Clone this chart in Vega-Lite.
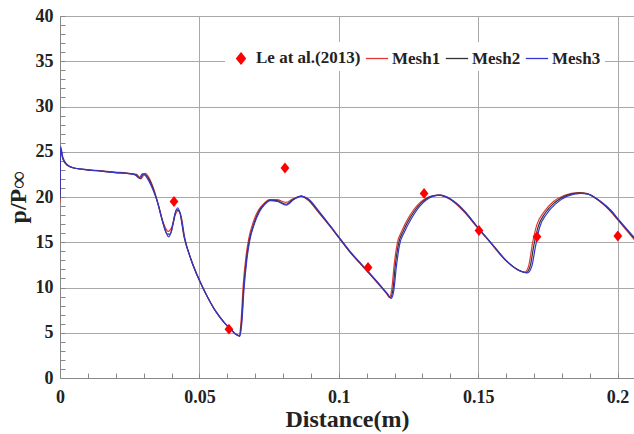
{
  "$schema": "https://vega.github.io/schema/vega-lite/v6.json",
  "width": 574,
  "height": 362,
  "autosize": "none",
  "padding": {"left": 60, "top": 16, "right": 0, "bottom": 56},
  "background": "white",
  "config": {"view": {"stroke": null}, "font": "Liberation Serif"},
  "datasets": {
    "exp": [
      {"s": "Le at al.(2013)", "x": 0.0409, "y": 19.5},
      {"s": "Le at al.(2013)", "x": 0.0606, "y": 5.4},
      {"s": "Le at al.(2013)", "x": 0.0807, "y": 23.2},
      {"s": "Le at al.(2013)", "x": 0.1105, "y": 12.2},
      {"s": "Le at al.(2013)", "x": 0.1306, "y": 20.4},
      {"s": "Le at al.(2013)", "x": 0.1503, "y": 16.3},
      {"s": "Le at al.(2013)", "x": 0.1711, "y": 15.6},
      {"s": "Le at al.(2013)", "x": 0.2001, "y": 15.7}
    ],
    "sim": [
      {"s": "Mesh1", "x": 0, "y": 19.4},
      {"s": "Mesh1", "x": 0.0002, "y": 25.0},
      {"s": "Mesh1", "x": 0.001, "y": 24.2},
      {"s": "Mesh1", "x": 0.0025, "y": 23.5},
      {"s": "Mesh1", "x": 0.005, "y": 23.2},
      {"s": "Mesh1", "x": 0.01, "y": 23.0},
      {"s": "Mesh1", "x": 0.015, "y": 22.9},
      {"s": "Mesh1", "x": 0.02, "y": 22.75},
      {"s": "Mesh1", "x": 0.024, "y": 22.65},
      {"s": "Mesh1", "x": 0.0275, "y": 22.5},
      {"s": "Mesh1", "x": 0.029, "y": 22.0},
      {"s": "Mesh1", "x": 0.0305, "y": 22.6},
      {"s": "Mesh1", "x": 0.0318, "y": 22.2},
      {"s": "Mesh1", "x": 0.033, "y": 21.4},
      {"s": "Mesh1", "x": 0.0345, "y": 20.0},
      {"s": "Mesh1", "x": 0.036, "y": 18.2},
      {"s": "Mesh1", "x": 0.0375, "y": 16.8},
      {"s": "Mesh1", "x": 0.0388, "y": 16.2},
      {"s": "Mesh1", "x": 0.04, "y": 16.6},
      {"s": "Mesh1", "x": 0.0413, "y": 18.0},
      {"s": "Mesh1", "x": 0.0425, "y": 18.5},
      {"s": "Mesh1", "x": 0.0435, "y": 17.8},
      {"s": "Mesh1", "x": 0.0448, "y": 15.4},
      {"s": "Mesh1", "x": 0.047, "y": 13.1},
      {"s": "Mesh1", "x": 0.05, "y": 10.8},
      {"s": "Mesh1", "x": 0.053, "y": 8.9},
      {"s": "Mesh1", "x": 0.056, "y": 7.3},
      {"s": "Mesh1", "x": 0.059, "y": 6.1},
      {"s": "Mesh1", "x": 0.0615, "y": 5.3},
      {"s": "Mesh1", "x": 0.0632, "y": 4.8},
      {"s": "Mesh1", "x": 0.0642, "y": 4.7},
      {"s": "Mesh1", "x": 0.065, "y": 6.5},
      {"s": "Mesh1", "x": 0.0657, "y": 10.2},
      {"s": "Mesh1", "x": 0.0667, "y": 13.4},
      {"s": "Mesh1", "x": 0.0677, "y": 15.4},
      {"s": "Mesh1", "x": 0.0694, "y": 17.3},
      {"s": "Mesh1", "x": 0.0713, "y": 18.6},
      {"s": "Mesh1", "x": 0.0732, "y": 19.3},
      {"s": "Mesh1", "x": 0.0752, "y": 19.7},
      {"s": "Mesh1", "x": 0.0778, "y": 19.7},
      {"s": "Mesh1", "x": 0.081, "y": 19.4},
      {"s": "Mesh1", "x": 0.0836, "y": 19.8},
      {"s": "Mesh1", "x": 0.0864, "y": 20.1},
      {"s": "Mesh1", "x": 0.0888, "y": 19.7},
      {"s": "Mesh1", "x": 0.093, "y": 18.2},
      {"s": "Mesh1", "x": 0.097, "y": 16.7},
      {"s": "Mesh1", "x": 0.1, "y": 15.5},
      {"s": "Mesh1", "x": 0.104, "y": 13.9},
      {"s": "Mesh1", "x": 0.1075, "y": 12.7},
      {"s": "Mesh1", "x": 0.111, "y": 11.5},
      {"s": "Mesh1", "x": 0.115, "y": 10.1},
      {"s": "Mesh1", "x": 0.1172, "y": 9.3},
      {"s": "Mesh1", "x": 0.1182, "y": 8.9},
      {"s": "Mesh1", "x": 0.119, "y": 9.8},
      {"s": "Mesh1", "x": 0.1199, "y": 12.6},
      {"s": "Mesh1", "x": 0.121, "y": 14.9},
      {"s": "Mesh1", "x": 0.1227, "y": 16.3},
      {"s": "Mesh1", "x": 0.1252, "y": 17.8},
      {"s": "Mesh1", "x": 0.1292, "y": 19.4},
      {"s": "Mesh1", "x": 0.1332, "y": 20.1},
      {"s": "Mesh1", "x": 0.1358, "y": 20.2},
      {"s": "Mesh1", "x": 0.1395, "y": 19.8},
      {"s": "Mesh1", "x": 0.1445, "y": 18.5},
      {"s": "Mesh1", "x": 0.1495, "y": 16.7},
      {"s": "Mesh1", "x": 0.1545, "y": 14.9},
      {"s": "Mesh1", "x": 0.1595, "y": 13.1},
      {"s": "Mesh1", "x": 0.164, "y": 12.0},
      {"s": "Mesh1", "x": 0.1668, "y": 11.7},
      {"s": "Mesh1", "x": 0.1682, "y": 12.5},
      {"s": "Mesh1", "x": 0.1695, "y": 14.9},
      {"s": "Mesh1", "x": 0.171, "y": 16.9},
      {"s": "Mesh1", "x": 0.1735, "y": 18.3},
      {"s": "Mesh1", "x": 0.177, "y": 19.5},
      {"s": "Mesh1", "x": 0.181, "y": 20.2},
      {"s": "Mesh1", "x": 0.1858, "y": 20.5},
      {"s": "Mesh1", "x": 0.1888, "y": 20.4},
      {"s": "Mesh1", "x": 0.1932, "y": 19.6},
      {"s": "Mesh1", "x": 0.1972, "y": 18.5},
      {"s": "Mesh1", "x": 0.2, "y": 17.5},
      {"s": "Mesh1", "x": 0.203, "y": 16.4},
      {"s": "Mesh1", "x": 0.207, "y": 14.9},

      {"s": "Mesh2", "x": 0, "y": 19.8},
      {"s": "Mesh2", "x": 0.0002, "y": 25.3},
      {"s": "Mesh2", "x": 0.001, "y": 24.3},
      {"s": "Mesh2", "x": 0.0025, "y": 23.55},
      {"s": "Mesh2", "x": 0.005, "y": 23.2},
      {"s": "Mesh2", "x": 0.01, "y": 23.0},
      {"s": "Mesh2", "x": 0.015, "y": 22.85},
      {"s": "Mesh2", "x": 0.02, "y": 22.7},
      {"s": "Mesh2", "x": 0.024, "y": 22.6},
      {"s": "Mesh2", "x": 0.0272, "y": 22.45},
      {"s": "Mesh2", "x": 0.0287, "y": 22.05},
      {"s": "Mesh2", "x": 0.03, "y": 22.55},
      {"s": "Mesh2", "x": 0.0313, "y": 22.25},
      {"s": "Mesh2", "x": 0.0325, "y": 21.6},
      {"s": "Mesh2", "x": 0.034, "y": 20.4},
      {"s": "Mesh2", "x": 0.0355, "y": 18.9},
      {"s": "Mesh2", "x": 0.037, "y": 17.1},
      {"s": "Mesh2", "x": 0.0385, "y": 15.9},
      {"s": "Mesh2", "x": 0.0395, "y": 15.9},
      {"s": "Mesh2", "x": 0.0407, "y": 17.2},
      {"s": "Mesh2", "x": 0.0418, "y": 18.6},
      {"s": "Mesh2", "x": 0.0428, "y": 18.4},
      {"s": "Mesh2", "x": 0.0445, "y": 15.6},
      {"s": "Mesh2", "x": 0.047, "y": 13.1},
      {"s": "Mesh2", "x": 0.05, "y": 10.8},
      {"s": "Mesh2", "x": 0.053, "y": 8.9},
      {"s": "Mesh2", "x": 0.056, "y": 7.3},
      {"s": "Mesh2", "x": 0.059, "y": 6.1},
      {"s": "Mesh2", "x": 0.0615, "y": 5.3},
      {"s": "Mesh2", "x": 0.0632, "y": 4.8},
      {"s": "Mesh2", "x": 0.0644, "y": 4.65},
      {"s": "Mesh2", "x": 0.0651, "y": 6.2},
      {"s": "Mesh2", "x": 0.0659, "y": 10.0},
      {"s": "Mesh2", "x": 0.0669, "y": 13.2},
      {"s": "Mesh2", "x": 0.0679, "y": 15.2},
      {"s": "Mesh2", "x": 0.0696, "y": 17.1},
      {"s": "Mesh2", "x": 0.0715, "y": 18.5},
      {"s": "Mesh2", "x": 0.0734, "y": 19.25},
      {"s": "Mesh2", "x": 0.0754, "y": 19.65},
      {"s": "Mesh2", "x": 0.0779, "y": 19.6},
      {"s": "Mesh2", "x": 0.0811, "y": 19.2},
      {"s": "Mesh2", "x": 0.0837, "y": 19.75},
      {"s": "Mesh2", "x": 0.0865, "y": 20.1},
      {"s": "Mesh2", "x": 0.0889, "y": 19.75},
      {"s": "Mesh2", "x": 0.0931, "y": 18.25},
      {"s": "Mesh2", "x": 0.097, "y": 16.75},
      {"s": "Mesh2", "x": 0.1, "y": 15.55},
      {"s": "Mesh2", "x": 0.104, "y": 13.95},
      {"s": "Mesh2", "x": 0.1075, "y": 12.75},
      {"s": "Mesh2", "x": 0.111, "y": 11.55},
      {"s": "Mesh2", "x": 0.115, "y": 10.15},
      {"s": "Mesh2", "x": 0.1174, "y": 9.3},
      {"s": "Mesh2", "x": 0.1185, "y": 8.85},
      {"s": "Mesh2", "x": 0.1194, "y": 9.7},
      {"s": "Mesh2", "x": 0.1203, "y": 12.5},
      {"s": "Mesh2", "x": 0.1214, "y": 14.8},
      {"s": "Mesh2", "x": 0.1231, "y": 16.2},
      {"s": "Mesh2", "x": 0.1256, "y": 17.7},
      {"s": "Mesh2", "x": 0.1296, "y": 19.35},
      {"s": "Mesh2", "x": 0.1336, "y": 20.1},
      {"s": "Mesh2", "x": 0.1362, "y": 20.2},
      {"s": "Mesh2", "x": 0.1398, "y": 19.8},
      {"s": "Mesh2", "x": 0.1448, "y": 18.5},
      {"s": "Mesh2", "x": 0.1498, "y": 16.65},
      {"s": "Mesh2", "x": 0.1548, "y": 14.85},
      {"s": "Mesh2", "x": 0.1598, "y": 13.05},
      {"s": "Mesh2", "x": 0.1643, "y": 11.95},
      {"s": "Mesh2", "x": 0.1673, "y": 11.65},
      {"s": "Mesh2", "x": 0.1687, "y": 12.4},
      {"s": "Mesh2", "x": 0.17, "y": 14.7},
      {"s": "Mesh2", "x": 0.1715, "y": 16.7},
      {"s": "Mesh2", "x": 0.174, "y": 18.2},
      {"s": "Mesh2", "x": 0.1775, "y": 19.4},
      {"s": "Mesh2", "x": 0.1815, "y": 20.15},
      {"s": "Mesh2", "x": 0.1863, "y": 20.45},
      {"s": "Mesh2", "x": 0.1892, "y": 20.35},
      {"s": "Mesh2", "x": 0.1936, "y": 19.55},
      {"s": "Mesh2", "x": 0.1976, "y": 18.45},
      {"s": "Mesh2", "x": 0.2002, "y": 17.5},
      {"s": "Mesh2", "x": 0.2033, "y": 16.4},
      {"s": "Mesh2", "x": 0.207, "y": 15.05},

      {"s": "Mesh3", "x": 0, "y": 20.0},
      {"s": "Mesh3", "x": 0.0002, "y": 25.6},
      {"s": "Mesh3", "x": 0.001, "y": 24.4},
      {"s": "Mesh3", "x": 0.0025, "y": 23.6},
      {"s": "Mesh3", "x": 0.005, "y": 23.2},
      {"s": "Mesh3", "x": 0.01, "y": 23.0},
      {"s": "Mesh3", "x": 0.015, "y": 22.85},
      {"s": "Mesh3", "x": 0.02, "y": 22.7},
      {"s": "Mesh3", "x": 0.024, "y": 22.6},
      {"s": "Mesh3", "x": 0.027, "y": 22.45},
      {"s": "Mesh3", "x": 0.0283, "y": 22.1},
      {"s": "Mesh3", "x": 0.0296, "y": 22.55},
      {"s": "Mesh3", "x": 0.0308, "y": 22.3},
      {"s": "Mesh3", "x": 0.032, "y": 21.7},
      {"s": "Mesh3", "x": 0.0335, "y": 20.7},
      {"s": "Mesh3", "x": 0.035, "y": 19.4},
      {"s": "Mesh3", "x": 0.0365, "y": 17.6},
      {"s": "Mesh3", "x": 0.038, "y": 16.1},
      {"s": "Mesh3", "x": 0.039, "y": 15.6},
      {"s": "Mesh3", "x": 0.04, "y": 16.3},
      {"s": "Mesh3", "x": 0.0412, "y": 18.1},
      {"s": "Mesh3", "x": 0.0422, "y": 18.8},
      {"s": "Mesh3", "x": 0.0432, "y": 18.1},
      {"s": "Mesh3", "x": 0.0446, "y": 15.6},
      {"s": "Mesh3", "x": 0.047, "y": 13.1},
      {"s": "Mesh3", "x": 0.05, "y": 10.8},
      {"s": "Mesh3", "x": 0.053, "y": 8.9},
      {"s": "Mesh3", "x": 0.056, "y": 7.3},
      {"s": "Mesh3", "x": 0.059, "y": 6.1},
      {"s": "Mesh3", "x": 0.0615, "y": 5.3},
      {"s": "Mesh3", "x": 0.0632, "y": 4.8},
      {"s": "Mesh3", "x": 0.0645, "y": 4.6},
      {"s": "Mesh3", "x": 0.0652, "y": 6.0},
      {"s": "Mesh3", "x": 0.066, "y": 9.8},
      {"s": "Mesh3", "x": 0.067, "y": 13.0},
      {"s": "Mesh3", "x": 0.068, "y": 15.1},
      {"s": "Mesh3", "x": 0.0697, "y": 17.0},
      {"s": "Mesh3", "x": 0.0716, "y": 18.4},
      {"s": "Mesh3", "x": 0.0735, "y": 19.2},
      {"s": "Mesh3", "x": 0.0755, "y": 19.6},
      {"s": "Mesh3", "x": 0.078, "y": 19.5},
      {"s": "Mesh3", "x": 0.0812, "y": 19.1},
      {"s": "Mesh3", "x": 0.0838, "y": 19.7},
      {"s": "Mesh3", "x": 0.0866, "y": 20.1},
      {"s": "Mesh3", "x": 0.089, "y": 19.8},
      {"s": "Mesh3", "x": 0.0932, "y": 18.3},
      {"s": "Mesh3", "x": 0.097, "y": 16.8},
      {"s": "Mesh3", "x": 0.1, "y": 15.6},
      {"s": "Mesh3", "x": 0.104, "y": 14.0},
      {"s": "Mesh3", "x": 0.1075, "y": 12.8},
      {"s": "Mesh3", "x": 0.111, "y": 11.6},
      {"s": "Mesh3", "x": 0.115, "y": 10.2},
      {"s": "Mesh3", "x": 0.1175, "y": 9.3},
      {"s": "Mesh3", "x": 0.1188, "y": 8.8},
      {"s": "Mesh3", "x": 0.1197, "y": 9.6},
      {"s": "Mesh3", "x": 0.1207, "y": 12.4},
      {"s": "Mesh3", "x": 0.1218, "y": 14.7},
      {"s": "Mesh3", "x": 0.1235, "y": 16.1},
      {"s": "Mesh3", "x": 0.126, "y": 17.6},
      {"s": "Mesh3", "x": 0.13, "y": 19.3},
      {"s": "Mesh3", "x": 0.134, "y": 20.1},
      {"s": "Mesh3", "x": 0.1365, "y": 20.2},
      {"s": "Mesh3", "x": 0.14, "y": 19.8},
      {"s": "Mesh3", "x": 0.145, "y": 18.5},
      {"s": "Mesh3", "x": 0.15, "y": 16.6},
      {"s": "Mesh3", "x": 0.155, "y": 14.8},
      {"s": "Mesh3", "x": 0.16, "y": 13.0},
      {"s": "Mesh3", "x": 0.1645, "y": 11.9},
      {"s": "Mesh3", "x": 0.1677, "y": 11.6},
      {"s": "Mesh3", "x": 0.1692, "y": 12.3},
      {"s": "Mesh3", "x": 0.1706, "y": 14.6},
      {"s": "Mesh3", "x": 0.172, "y": 16.6},
      {"s": "Mesh3", "x": 0.1745, "y": 18.1},
      {"s": "Mesh3", "x": 0.178, "y": 19.3},
      {"s": "Mesh3", "x": 0.182, "y": 20.1},
      {"s": "Mesh3", "x": 0.1868, "y": 20.4},
      {"s": "Mesh3", "x": 0.1895, "y": 20.3},
      {"s": "Mesh3", "x": 0.194, "y": 19.5},
      {"s": "Mesh3", "x": 0.198, "y": 18.4},
      {"s": "Mesh3", "x": 0.2004, "y": 17.5},
      {"s": "Mesh3", "x": 0.2035, "y": 16.4},
      {"s": "Mesh3", "x": 0.207, "y": 15.2}
    ]
  },
  "encoding": {
    "x": {
      "field": "x",
      "type": "quantitative",
      "scale": {"domain": [0, 0.2059], "nice": false, "zero": false},
      "axis": {
        "values": [0, 0.01, 0.02, 0.03, 0.04, 0.05, 0.06, 0.07, 0.08, 0.09, 0.1, 0.11, 0.12, 0.13, 0.14, 0.15, 0.16, 0.17, 0.18, 0.19, 0.2],
        "labelExpr": "round(datum.value*100) % 5 === 0 ? format(datum.value, '~g') : ''",
        "labelOverlap": false,
        "labelFlush": false,
        "grid": true,
        "gridColor": "#a8a8a8",
        "gridWidth": 1,
        "gridOpacity": {"condition": {"test": "round(datum.value*100) % 5 === 0 && datum.value > 0", "value": 1}, "value": 0},
        "tickSize": -5,
        "tickColor": "#888888",
        "domainColor": "#888888",
        "labelFont": "Liberation Serif",
        "labelFontWeight": "bold",
        "labelFontSize": 18,
        "labelColor": "#222222",
        "labelPadding": 15,
        "title": "Distance(m)",
        "titleFont": "Liberation Serif",
        "titleFontWeight": "bold",
        "titleFontSize": 24,
        "titleColor": "#222222",
        "titlePadding": 1
      }
    },
    "y": {
      "field": "y",
      "type": "quantitative",
      "scale": {"domain": [0, 40], "nice": false, "zero": false},
      "axis": {
        "values": [0, 1, 2, 3, 4, 5, 6, 7, 8, 9, 10, 11, 12, 13, 14, 15, 16, 17, 18, 19, 20, 21, 22, 23, 24, 25, 26, 27, 28, 29, 30, 31, 32, 33, 34, 35, 36, 37, 38, 39, 40],
        "labelExpr": "datum.value % 5 === 0 ? datum.label : ''",
        "labelOverlap": false,
        "labelFlush": false,
        "grid": true,
        "gridColor": "#a8a8a8",
        "gridWidth": 1,
        "gridOpacity": {"condition": {"test": "datum.value % 5 === 0 && datum.value > 0", "value": 1}, "value": 0},
        "tickSize": -5,
        "tickColor": "#888888",
        "domainColor": "#888888",
        "labelFont": "Liberation Serif",
        "labelFontWeight": "bold",
        "labelFontSize": 18,
        "labelColor": "#222222",
        "labelPadding": 12,
        "title": "p/P∞",
        "titleFont": "Liberation Serif",
        "titleFontWeight": "bold",
        "titleFontSize": 24,
        "titleColor": "#222222",
        "titleX": -30,
        "titleY": 181
      }
    },
    "color": {
      "field": "s",
      "type": "nominal",
      "scale": {
        "domain": ["Le at al.(2013)", "Mesh1", "Mesh2", "Mesh3"],
        "range": ["#ff0000", "#e03838", "#333333", "#3535d0"]
      },
      "legend": {
        "orient": "none",
        "legendX": 165,
        "legendY": 26,
        "direction": "horizontal",
        "title": null,
        "fillColor": "white",
        "padding": 4,
        "columnPadding": 2,
        "labelOffset": 3,
        "symbolSize": 500,
        "symbolStrokeWidth": 1.3,
        "labelFont": "Liberation Serif",
        "labelFontWeight": "bold",
        "labelFontSize": 17,
        "labelColor": "#222222",
        "encode": {
          "symbols": {
            "update": {
              "shape": {"signal": "datum.value === 'Le at al.(2013)' ? 'M0,-1L0.8,0L0,1L-0.8,0Z' : 'stroke'"},
              "size": {"signal": "datum.value === 'Le at al.(2013)' ? 120 : 500"},
              "fill": {"signal": "datum.value === 'Le at al.(2013)' ? '#ff0000' : 'transparent'"},
              "stroke": {"signal": "datum.value === 'Le at al.(2013)' ? 'transparent' : (datum.value === 'Mesh1' ? '#e03838' : (datum.value === 'Mesh2' ? '#333333' : '#3535d0'))"},
              "strokeWidth": {"value": 1.3},
              "opacity": {"value": 1}
            }
          }
        }
      }
    }
  },
  "layer": [
    {
      "data": {"name": "sim"},
      "mark": {"type": "line", "interpolate": "monotone", "strokeWidth": 1.2, "clip": true}
    },
    {
      "data": {"name": "exp"},
      "mark": {"type": "point", "shape": "M0,-1L0.8,0L0,1L-0.8,0Z", "filled": true, "size": 120, "opacity": 1, "clip": true}
    }
  ]
}
